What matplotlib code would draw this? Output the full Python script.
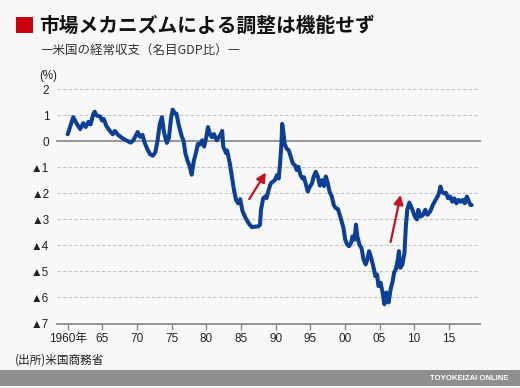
import matplotlib
matplotlib.use("Agg")
import matplotlib.pyplot as plt
from matplotlib.patches import Rectangle

# ---- data ----
years = [1960.0, 1960.4, 1960.8, 1961.3, 1961.8, 1962.25, 1962.6, 1963.0, 1963.3, 1963.7,
         1963.9, 1964.2, 1964.7, 1964.95, 1965.2, 1965.6, 1966.1, 1966.5, 1966.8, 1967.3,
         1967.8, 1968.3, 1968.75, 1969.1, 1969.5, 1970.1, 1970.45, 1970.8, 1971.1, 1971.5,
         1971.9, 1972.3, 1972.65, 1972.95, 1973.3, 1973.6, 1973.9, 1974.3, 1974.6, 1974.9,
         1975.15, 1975.45, 1975.7, 1976.05, 1976.45, 1976.7, 1977.0, 1977.3, 1977.6, 1977.9,
         1978.2, 1978.5, 1978.8, 1979.1, 1979.4, 1979.7, 1980.0, 1980.25, 1980.5, 1980.8,
         1981.1, 1981.5, 1981.8, 1982.1, 1982.3, 1982.45, 1982.85, 1983.0, 1983.4, 1983.7,
         1984.0, 1984.3, 1984.6, 1984.9, 1985.2, 1985.5, 1985.9, 1986.2, 1986.6, 1987.0,
         1987.5, 1987.75, 1987.9, 1988.2, 1988.5, 1988.7, 1989.0, 1989.3, 1989.6, 1989.9,
         1990.2, 1990.45, 1990.65, 1990.85, 1990.95, 1991.1, 1991.3, 1991.6, 1991.9, 1992.2,
         1992.5, 1992.8, 1993.05, 1993.3, 1993.6, 1993.9, 1994.1, 1994.4, 1994.65, 1994.95,
         1995.25, 1995.5, 1995.8, 1996.1, 1996.4, 1996.7, 1997.0, 1997.25, 1997.55, 1997.8,
         1998.1, 1998.4, 1998.7, 1999.0, 1999.4, 1999.8, 2000.05, 2000.35, 2000.6, 2000.9,
         2001.1, 2001.4, 2001.6, 2001.8, 2002.1, 2002.4, 2002.7, 2003.0, 2003.25, 2003.5,
         2003.8, 2004.1, 2004.4, 2004.65, 2004.85, 2005.15, 2005.45, 2005.7, 2006.0, 2006.3,
         2006.6, 2006.9, 2007.1, 2007.35, 2007.65, 2007.8, 2008.0, 2008.3, 2008.6, 2008.8,
         2009.0, 2009.3, 2009.7, 2010.1, 2010.4, 2010.6, 2010.9, 2011.3, 2011.6, 2011.9,
         2012.3, 2012.7, 2013.1, 2013.5, 2013.8, 2014.0, 2014.3, 2014.6, 2014.9, 2015.2,
         2015.5, 2015.8, 2016.1, 2016.4, 2016.7, 2017.0, 2017.3, 2017.6, 2017.8, 2018.1,
         2018.3]
values = [0.27, 0.60, 0.93, 0.68, 0.47, 0.70, 0.55, 0.75, 0.65, 1.05,
          1.14, 0.99, 0.95, 0.80, 0.86, 0.58, 0.40, 0.27, 0.40, 0.24,
          0.14, 0.06, 0.00, -0.05, 0.05, 0.36, 0.17, 0.25, -0.05, -0.30,
          -0.50, -0.55, -0.42, 0.00, 0.67, 0.93, 0.35, -0.06, 0.12, 0.85,
          1.22, 1.08, 1.06, 0.60, 0.20, 0.04, -0.47, -0.75, -0.95, -1.28,
          -0.75, -0.45, -0.10, -0.12, 0.04, -0.20, 0.15, 0.55, 0.30, 0.16,
          0.28, 0.04, 0.15, 0.28, 0.40, -0.20, -0.45, -0.35, -0.85, -1.36,
          -1.87, -2.25, -2.38, -2.22, -2.65, -2.85, -3.05, -3.18, -3.30, -3.28,
          -3.27, -3.20, -2.63, -2.20, -2.12, -2.18, -1.87, -1.62, -1.55, -1.49,
          -1.30, -1.43, -0.85, -0.09, 0.67, 0.42, -0.09, -0.28, -0.34, -0.60,
          -0.85, -0.92, -1.10, -0.98, -1.30, -1.43, -1.38, -1.68, -1.93, -1.74,
          -1.62, -1.36, -1.17, -1.36, -1.70, -1.49, -1.72, -1.35, -1.62, -1.95,
          -2.10, -2.45, -2.57, -2.60, -2.95, -3.33, -3.78, -3.97, -4.03, -3.90,
          -3.65, -3.78, -3.20, -3.65, -3.97, -4.10, -4.54, -4.73, -4.54, -4.22,
          -4.48, -4.80, -5.18, -5.12, -5.56, -5.43, -5.81, -6.26, -5.81, -6.19,
          -5.69, -5.37, -5.05, -4.92, -4.54, -4.22, -4.86, -4.73, -4.29, -3.27,
          -2.63, -2.35, -2.60, -2.89, -3.00, -2.63, -2.89, -2.82, -2.63, -2.82,
          -2.70, -2.44, -2.25, -2.06, -1.74, -1.93, -2.00, -1.98, -2.19, -2.12,
          -2.32, -2.19, -2.38, -2.25, -2.32, -2.25, -2.38, -2.12, -2.25, -2.44,
          -2.45]

x_ticks = [1960, 1965, 1970, 1975, 1980, 1985, 1990, 1995, 2000, 2005, 2010, 2015]
x_labels = ['1960年', '65', '70', '75', '80', '85', '90', '95', '00', '05', '10', '15']
y_ticks = [2, 1, 0, -1, -2, -3, -4, -5, -6, -7]
y_labels = ['2', '1', '0', '▲1', '▲2', '▲3', '▲4', '▲5', '▲6', '▲7']

# arrows: (tail_x, tail_y, head_x, head_y) in data units
arrow1 = (1986.2, -2.22, 1988.6, -1.20)
arrow2 = (2006.6, -3.87, 2008.05, -2.06)

title = '市場メカニズムによる調整は機能せず'
subtitle = '―米国の経常収支（名目GDP比）―'
source = '(出所)米国商務省'
brand = 'TOYOKEIZAI ONLINE'

# ---- styling ----
JP = ['Noto Sans CJK JP', 'DejaVu Sans']
NUM = ['Liberation Sans', 'Noto Sans CJK JP', 'DejaVu Sans']
plt.rcParams['font.family'] = JP

W, H = 520, 388
bg = '#f8f8f8'
fig = plt.figure(figsize=(W / 100, H / 100), dpi=100, facecolor=bg)

def fx(px):
    return px / W

def fy(py):
    return 1 - py / H

# title block
fig.patches.append(Rectangle((fx(16), fy(33)), fx(17) - fx(0), fy(17) - fy(33),
                             transform=fig.transFigure, facecolor='#c8000f',
                             edgecolor='none'))
fig.text(fx(39), fy(26), title, fontsize=14.2, fontweight='bold', color='#111111',
         va='center', ha='left', family=JP)
fig.text(fx(40), fy(50), subtitle, fontsize=9.0, color='#333333',
         va='center', ha='left', family=JP)

# axes
left_px, right_px, top_px, bottom_px = 57, 480, 89.3, 323.5
ax = fig.add_axes([fx(left_px), fy(bottom_px), (right_px - left_px) / W,
                   (bottom_px - top_px) / H])
ax.set_facecolor('none')
ax.set_xlim(1958.46, 2019.5)
ax.set_ylim(-7, 2)

for yv in y_ticks:
    if yv == 0:
        ax.axhline(yv, color='#8c8c8c', lw=1.3, zorder=1, clip_on=False)
    elif yv == -7:
        continue
    else:
        ax.axhline(yv, color='#c4c4c4', lw=0.8, ls=(0, (3, 2)), zorder=1, clip_on=False)

ax.plot(years, values, color='#0b4096', lw=2.9, solid_joinstyle='round',
        solid_capstyle='round', zorder=3)

for a in (arrow1, arrow2):
    ax.annotate('', xy=(a[2], a[3]), xytext=(a[0], a[1]),
                arrowprops=dict(arrowstyle='-|>,head_length=0.55,head_width=0.28',
                                color='#c8101e', lw=1.6, shrinkA=0, shrinkB=0),
                zorder=4)

for s in ('top', 'right', 'left'):
    ax.spines[s].set_visible(False)
ax.spines['bottom'].set_color('#8c8c8c')
ax.spines['bottom'].set_linewidth(1.3)

ax.set_xticks(x_ticks)
ax.set_xticklabels(x_labels, family=NUM, fontsize=8.5, color='#222222')
ax.tick_params(axis='x', direction='out', length=4, width=1.0, color='#8c8c8c', pad=2.5)
ax.set_yticks(y_ticks)
ax.set_yticklabels(y_labels, family=NUM, fontsize=8.5, color='#222222')
ax.tick_params(axis='y', length=0, pad=5.5)

fig.text(fx(39), fy(76), '(%)', fontsize=8.3, color='#222222', va='center', ha='left',
         family=NUM)

# source
fig.text(fx(15), fy(360), source, fontsize=8.4, color='#222222', va='center', ha='left',
         family=JP)

# bottom banner
fig.patches.append(Rectangle((0, fy(385.5)), 1, fy(370) - fy(385.5),
                             transform=fig.transFigure, facecolor='#8e8e8e',
                             edgecolor='none'))
fig.text(fx(509), fy(378), brand, fontsize=5.6, fontweight='bold', color='white',
         va='center', ha='right', family=['Liberation Sans', 'DejaVu Sans'])

fig.savefig('out.png', dpi=100, facecolor=bg)
